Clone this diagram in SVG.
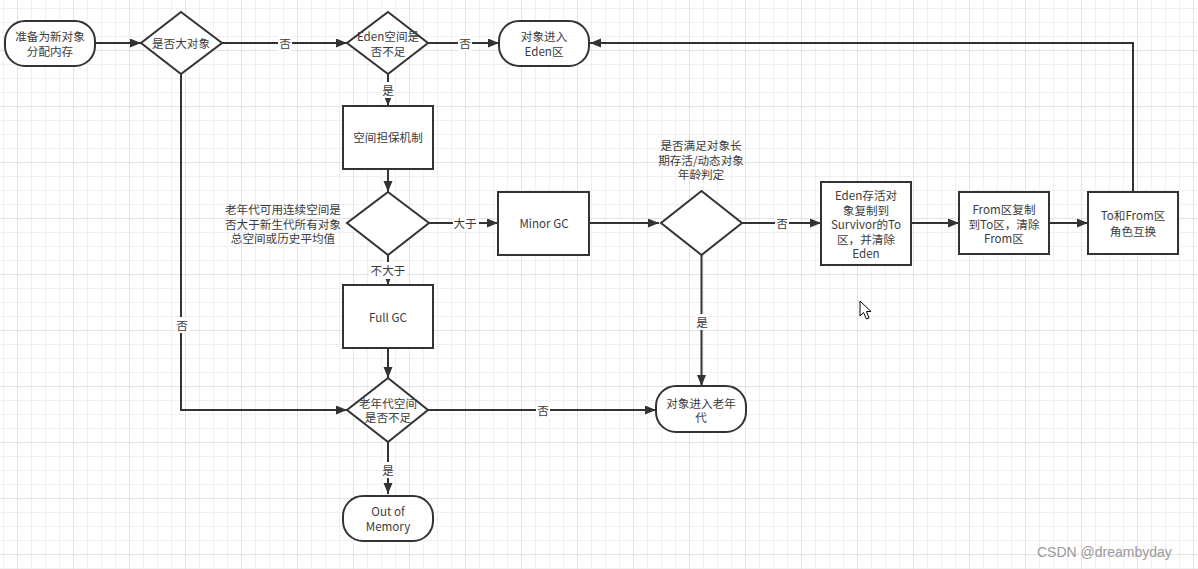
<svg xmlns="http://www.w3.org/2000/svg" width="1198" height="569" viewBox="0 0 1198 569">
<style>
.node{fill:#fff;stroke:#333;stroke-width:2}
.edge{fill:none;stroke:#333;stroke-width:2}
.t{font-family:"Noto Sans CJK SC","Noto Sans",sans-serif;font-size:11.6px;fill:#3c3c3c;text-anchor:middle;dominant-baseline:central}
.lb{fill:#fff}
.wm{font-family:"Liberation Sans",Arial,sans-serif;font-size:14px;fill:#9a9a9a}
</style>
<defs>
<pattern id="grid" patternUnits="userSpaceOnUse" x="17" y="50" width="56" height="56">
<rect x="14" y="0" width="1" height="56" fill="#f0f0f0"/>
<rect x="28" y="0" width="1" height="56" fill="#f0f0f0"/>
<rect x="42" y="0" width="1" height="56" fill="#f0f0f0"/>
<rect x="0" y="14" width="56" height="1" fill="#f0f0f0"/>
<rect x="0" y="28" width="56" height="1" fill="#f0f0f0"/>
<rect x="0" y="42" width="56" height="1" fill="#f0f0f0"/>
<rect x="0" y="0" width="1" height="56" fill="#e3e3e3"/>
<rect x="0" y="0" width="56" height="1" fill="#e3e3e3"/>
</pattern>
<marker id="arr" markerUnits="userSpaceOnUse" markerWidth="12" markerHeight="10" refX="11" refY="4.5" orient="auto">
<path d="M0,0 L11,4.5 L0,9 z" fill="#333"/>
</marker>
</defs>
<rect width="1198" height="569" fill="#fff"/>
<rect width="1198" height="569" fill="url(#grid)"/>

<g id="connectors">
<path class="edge" d="M95,43 L141,43" marker-end="url(#arr)"/>
<path class="edge" d="M222,43 L347,43" marker-end="url(#arr)"/>
<path class="edge" d="M428,43 L499,43" marker-end="url(#arr)"/>
<path class="edge" d="M388,74 L388,106" marker-end="url(#arr)"/>
<path class="edge" d="M388,169 L388,192" marker-end="url(#arr)"/>
<path class="edge" d="M429,223 L498,223" marker-end="url(#arr)"/>
<path class="edge" d="M388,255 L388,285" marker-end="url(#arr)"/>
<path class="edge" d="M589,223 L659,223" marker-end="url(#arr)"/>
<path class="edge" d="M742,223 L821,223" marker-end="url(#arr)"/>
<path class="edge" d="M911,223 L959,223" marker-end="url(#arr)"/>
<path class="edge" d="M1049,223 L1088,223" marker-end="url(#arr)"/>
<path class="edge" d="M1133,192 L1133,43 L590,43" marker-end="url(#arr)"/>
<path class="edge" d="M701.5,255 L701.5,386" marker-end="url(#arr)"/>
<path class="edge" d="M181,74 L181,410 L347,410" marker-end="url(#arr)"/>
<path class="edge" d="M388,348 L388,378" marker-end="url(#arr)"/>
<path class="edge" d="M428,410 L656,410" marker-end="url(#arr)"/>
<path class="edge" d="M388,442 L388,494" marker-end="url(#arr)"/>
<g id="edge-labels">
<rect class="lb" x="278" y="35" width="14" height="16"/><text class="t" x="285" y="43">否</text>
<rect class="lb" x="458" y="35" width="14" height="16"/><text class="t" x="465" y="43">否</text>
<rect class="lb" x="381" y="82" width="14" height="16"/><text class="t" x="388" y="90">是</text>
<rect class="lb" x="453" y="215" width="26" height="16"/><text class="t" x="465" y="223">大于</text>
<rect class="lb" x="370" y="262" width="37" height="17"/><text class="t" x="388" y="270">不大于</text>
<rect class="lb" x="775" y="215" width="14" height="16"/><text class="t" x="782" y="223">否</text>
<rect class="lb" x="695" y="314" width="14" height="16"/><text class="t" x="702" y="322">是</text>
<rect class="lb" x="175" y="317" width="14" height="16"/><text class="t" x="182" y="325">否</text>
<rect class="lb" x="536" y="402" width="14" height="16"/><text class="t" x="543" y="410">否</text>
<rect class="lb" x="381" y="462" width="14" height="16"/><text class="t" x="388" y="470">是</text>
</g>
</g>

<g id="start">
<rect class="node" x="5" y="21" width="90" height="45" rx="20" ry="20"/>
<text class="t" x="50" y="36">准备为新对象</text>
<text class="t" x="50" y="51">分配内存</text>
</g>
<g id="isBigObject">
<polygon class="node" points="181,12 222,43 181,74 141,43"/>
<text class="t" x="181" y="43">是否大对象</text>
</g>
<g id="edenInsufficient">
<polygon class="node" points="388,12 428,43 388,74 347,43"/>
<text class="t" x="388" y="36">Eden空间是</text>
<text class="t" x="388" y="51">否不足</text>
</g>
<g id="toEden">
<rect class="node" x="499" y="21" width="90" height="45" rx="20" ry="20"/>
<text class="t" x="544" y="36">对象进入</text>
<text class="t" x="544" y="51">Eden区</text>
</g>
<g id="guarantee">
<rect class="node" x="343" y="106" width="90" height="63"/>
<text class="t" x="388" y="137">空间担保机制</text>
</g>
<g id="oldGenCheck">
<polygon class="node" points="388,192 429,223 388,255 347,223"/>
<text class="t" x="283" y="209">老年代可用连续空间是</text>
<text class="t" x="283" y="224">否大于新生代所有对象</text>
<text class="t" x="283" y="238">总空间或历史平均值</text>
</g>
<g id="minorGC">
<rect class="node" x="498" y="192" width="91" height="63"/>
<text class="t" x="544" y="223">Minor GC</text>
</g>
<g id="ageCheck">
<polygon class="node" points="701.5,191 742,223 701.5,255 661,223"/>
<text class="t" x="701" y="145">是否满足对象长</text>
<text class="t" x="701" y="160">期存活/动态对象</text>
<text class="t" x="701" y="174">年龄判定</text>
</g>
<g id="copyToSurvivor">
<rect class="node" x="821" y="182" width="90" height="83"/>
<text class="t" x="866" y="195">Eden存活对</text>
<text class="t" x="866" y="210">象复制到</text>
<text class="t" x="866" y="224">Survivor的To</text>
<text class="t" x="866" y="239">区，并清除</text>
<text class="t" x="866" y="253">Eden</text>
</g>
<g id="copyFrom">
<rect class="node" x="959" y="192" width="90" height="62"/>
<text class="t" x="1004" y="209">From区复制</text>
<text class="t" x="1004" y="224">到To区，清除</text>
<text class="t" x="1004" y="238">From区</text>
</g>
<g id="swap">
<rect class="node" x="1088" y="192" width="90" height="62"/>
<text class="t" x="1133" y="215">To和From区</text>
<text class="t" x="1133" y="231">角色互换</text>
</g>
<g id="fullGC">
<rect class="node" x="343" y="285" width="90" height="63"/>
<text class="t" x="388" y="317">Full GC</text>
</g>
<g id="oldInsufficient">
<polygon class="node" points="388,378 428,410 388,442 347,410"/>
<text class="t" x="388" y="403">老年代空间</text>
<text class="t" x="388" y="417">是否不足</text>
</g>
<g id="toOld">
<rect class="node" x="656" y="386" width="90" height="46" rx="20" ry="20"/>
<text class="t" x="701" y="403">对象进入老年</text>
<text class="t" x="701" y="417">代</text>
</g>
<g id="oom">
<rect class="node" x="343" y="496" width="90" height="45" rx="20" ry="20"/>
<text class="t" x="388" y="511">Out of</text>
<text class="t" x="388" y="526">Memory</text>
</g>

<path d="M860,301 L860,316 L863.5,312.5 L866.5,319 L869,318 L866.5,311.5 L871,311.5 Z" fill="#fff" stroke="#000" stroke-width="1"/>
<text class="wm" x="1037" y="557">CSDN @dreambyday</text>
</svg>
